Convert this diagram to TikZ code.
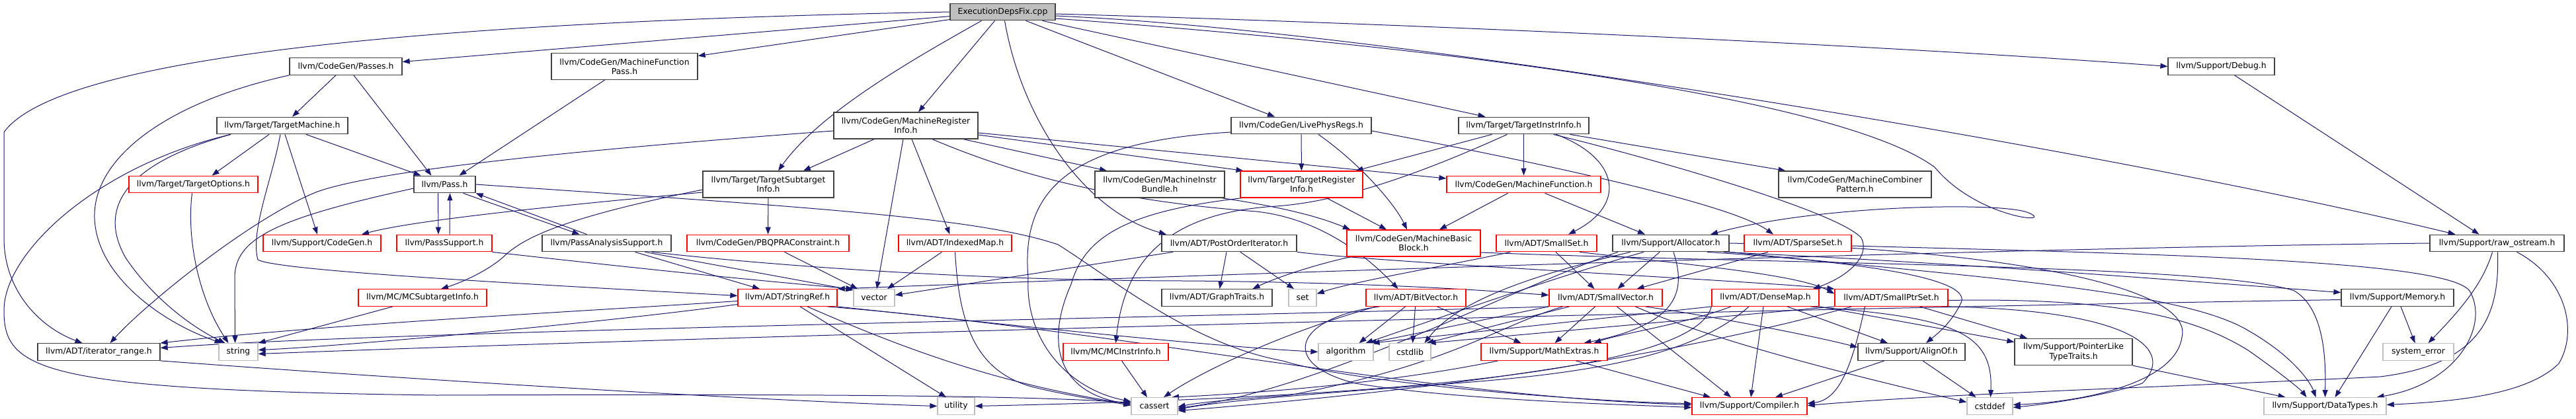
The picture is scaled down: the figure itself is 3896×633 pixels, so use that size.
\documentclass[tikz,border=0pt]{standalone}
\usepackage{fontspec}
\setmainfont{DejaVu Sans}
\usetikzlibrary{arrows.meta}
\definecolor{edgec}{HTML}{191970}
\definecolor{gfill}{HTML}{BFBFBF}
\definecolor{bkb}{HTML}{404040}
\definecolor{grb}{HTML}{BFBFBF}
\pgfdeclarelayer{bg}
\pgfsetlayers{bg,main}
\tikzset{
  nd/.style={rectangle, fill=white, inner sep=0pt, minimum height=25.5pt, line width=1.3pt,
    font=\fontsize{12.4}{14.2}\selectfont, align=center},
  bk/.style={nd, draw=bkb},
  rd/.style={nd, draw=red},
  gr/.style={nd, draw=grb},
  two/.style={minimum height=40pt},
  e/.style={draw=edgec, line width=1pt, -{Triangle[length=11pt,width=8pt]}},
}
\begin{document}
\begin{tikzpicture}[x=1pt,y=-1pt]
\begin{pgfonlayer}{bg}
\fill[white] (0,0) rectangle (3896,633);
\end{pgfonlayer}
\path[use as bounding box] (0,0) rectangle (3896,633);
% row 0
\node[bk, fill=gfill, minimum width=159] (EDF) at (1516.5,18) {ExecutionDepsFix.cpp};
% row 1
\node[bk, minimum width=170] (Passes) at (523,100.5) {llvm/CodeGen/Passes.h};
\node[bk, two, minimum width=221] (MFP) at (944.5,100.5) {llvm/CodeGen/MachineFunction\\Pass.h};
\node[bk, minimum width=161] (Debug) at (3359.5,100.5) {llvm/Support/Debug.h};
% row 2
\node[bk, minimum width=198] (TM) at (427,190) {llvm/Target/TargetMachine.h};
\node[bk, two, minimum width=218] (MRI) at (1370,190) {llvm/CodeGen/MachineRegister\\Info.h};
\node[bk, minimum width=212] (LPR) at (1968,190) {llvm/CodeGen/LivePhysRegs.h};
\node[bk, minimum width=197] (TII) at (2304.5,190) {llvm/Target/TargetInstrInfo.h};
% row 3
\node[rd, minimum width=195] (TO) at (292.5,279) {llvm/Target/TargetOptions.h};
\node[bk, minimum width=93] (Pass) at (672.5,279) {llvm/Pass.h};
\node[bk, two, minimum width=198] (TSI) at (1162,279) {llvm/Target/TargetSubtarget\\Info.h};
\node[bk, two, minimum width=196] (MIB) at (1754,279) {llvm/CodeGen/MachineInstr\\Bundle.h};
\node[rd, two, minimum width=185] (TRI) at (1968.5,279) {llvm/Target/TargetRegister\\Info.h};
\node[rd, minimum width=233] (MF) at (2304.5,279) {llvm/CodeGen/MachineFunction.h};
\node[bk, two, minimum width=231] (MCP) at (2805.5,279) {llvm/CodeGen/MachineCombiner\\Pattern.h};
% row 4
\node[rd, minimum width=178] (SCG) at (487,368) {llvm/Support/CodeGen.h};
\node[rd, minimum width=144] (PS) at (672,368) {llvm/PassSupport.h};
\node[bk, minimum width=195] (PAS) at (917.5,368) {llvm/PassAnalysisSupport.h};
\node[rd, minimum width=245] (PBQP) at (1161.5,368) {llvm/CodeGen/PBQPRAConstraint.h};
\node[rd, minimum width=171] (IM) at (1444.5,368) {llvm/ADT/IndexedMap.h};
\node[bk, minimum width=204] (POI) at (1859,368) {llvm/ADT/PostOrderIterator.h};
\node[rd, two, minimum width=202] (MBB) at (2138,368) {llvm/CodeGen/MachineBasic\\Block.h};
\node[rd, minimum width=152] (SS) at (2339,368) {llvm/ADT/SmallSet.h};
\node[bk, minimum width=176] (Alloc) at (2527,368) {llvm/Support/Allocator.h};
\node[rd, minimum width=162] (SpS) at (2719,368) {llvm/ADT/SparseSet.h};
\node[bk, minimum width=203] (RO) at (3776.5,368) {llvm/Support/raw\_ostream.h};
% row 5
\node[rd, minimum width=194] (MCSTI) at (639,450.5) {llvm/MC/MCSubtargetInfo.h};
\node[rd, minimum width=150] (SR) at (1191,450.5) {llvm/ADT/StringRef.h};
\node[gr, minimum width=62] (vector) at (1322,450.5) {vector};
\node[bk, minimum width=167] (GT) at (1840.5,450.5) {llvm/ADT/GraphTraits.h};
\node[gr, minimum width=42] (set) at (1970,450.5) {set};
\node[rd, minimum width=151] (BV) at (2141.5,450.5) {llvm/ADT/BitVector.h};
\node[rd, minimum width=171] (SV) at (2428.5,450.5) {llvm/ADT/SmallVector.h};
\node[rd, minimum width=162] (DM) at (2670,450.5) {llvm/ADT/DenseMap.h};
\node[rd, minimum width=171] (SPS) at (2860.5,450.5) {llvm/ADT/SmallPtrSet.h};
\node[bk, minimum width=170] (Mem) at (3626,450.5) {llvm/Support/Memory.h};
% row 6
\node[bk, minimum width=185] (IR) at (149.5,532.5) {llvm/ADT/iterator\_range.h};
\node[gr, minimum width=59] (string) at (360.5,532.5) {string};
\node[rd, minimum width=159] (MCII) at (1687.5,532.5) {llvm/MC/MCInstrInfo.h};
\node[gr, minimum width=83] (algorithm) at (2035.5,532.5) {algorithm};
\node[gr, minimum width=63] (cstdlib) at (2132.5,532.5) {cstdlib};
\node[rd, minimum width=191] (ME) at (2335.5,532.5) {llvm/Support/MathExtras.h};
\node[bk, minimum width=162] (AO) at (2891,532.5) {llvm/Support/AlignOf.h};
\node[bk, two, minimum width=178] (PLTT) at (3136,532.5) {llvm/Support/PointerLike\\TypeTraits.h};
\node[gr, minimum width=107] (syserr) at (3657.5,532.5) {system\_error};
% row 7
\node[gr, minimum width=56] (utility) at (1446,614.5) {utility};
\node[gr, minimum width=70] (cassert) at (1746,614.5) {cassert};
\node[rd, minimum width=174] (Comp) at (2646,614.5) {llvm/Support/Compiler.h};
\node[gr, minimum width=69] (cstddef) at (3009.5,614.5) {cstddef};
\node[gr, minimum width=185] (DT) at (3516.5,614.5) {llvm/Support/DataTypes.h};

\begin{pgfonlayer}{bg}
% EDF
\draw[e] (EDF) -- (Passes);
\draw[e] (EDF) -- (MFP);
\draw[e] (EDF.west) .. controls (800,30) and (100,70) .. (6,200) -- (6,360) .. controls (6,440) and (60,495) .. ([xshift=-25]IR.north);
\draw[e] ([xshift=-32]EDF.south) .. controls (1380,90) and (1240,170) .. ([xshift=15]TSI.north);
\draw[e] ([xshift=-12]EDF.south) -- ([xshift=19]MRI.north);
\draw[e] ([xshift=3]EDF.south) .. controls (1545,180) and (1640,320) .. ([xshift=-95]POI.north);
\draw[e] ([xshift=35]EDF.south) -- ([xshift=-40]LPR.north);
\draw[e] ([xshift=60]EDF.south) -- ([xshift=-58]TII.north);
\draw[e] ([yshift=-3]EDF.east) .. controls (2200,38) and (2900,72) .. (Debug.west);
\draw[e] ([yshift=-6]EDF.east) .. controls (2100,45) and (3200,230) .. ([xshift=-63]RO.north);
\draw[e] ([yshift=-10]EDF.east) .. controls (2300,80) and (2800,160) .. (2926,253) .. controls (2990,330) and (3110,340) .. (3068,322) .. controls (3030,305) and (2750,310) .. ([xshift=60]Alloc.north);
% Passes, MFP, Debug
\draw[e] (Passes.south west) .. controls (250,155) and (140,240) .. (143,330) .. controls (146,420) and (250,490) .. ([xshift=-25]string.north);
\draw[e] ([xshift=-15]Passes.south) -- ([xshift=15]TM.north);
\draw[e] ([xshift=12]Passes.south) -- ([xshift=-20]Pass.north);
\draw[e] ([xshift=-30]MFP.south) -- ([xshift=22]Pass.north);
\draw[e] ([xshift=20]Debug.south) -- ([xshift=-27]RO.north);
% TM
\draw[e] ([xshift=-78]TM.south) .. controls (150,250) and (6,380) .. (6,470) .. controls (6,560) and (60,590) .. (660,598) .. controls (1200,596) and (1550,598) .. ([yshift=5]cassert.west);
\draw[e] ([xshift=-78]TM.south) .. controls (180,250) and (150,320) .. (190,390) .. controls (230,450) and (290,495) .. ([xshift=-20]string.north);
\draw[e] ([xshift=-20]TM.south) -- ([xshift=28]TO.north);
\draw[e] ([xshift=-3]TM.south) .. controls (412,270) and (378,350) .. (390,393) .. controls (420,410) and (800,430) .. ([yshift=3]SR.west);
\draw[e] ([xshift=4]TM.south) -- ([xshift=-7]SCG.north);
\draw[e] ([xshift=36]TM.south) -- ([xshift=-36]Pass.north);
% MRI
\draw[e] ([yshift=-8]MRI.west) .. controls (900,225) and (580,255) .. (480,290) .. controls (380,330) and (220,460) .. ([xshift=17]IR.north);
\draw[e] ([xshift=-48]MRI.south) -- ([xshift=53]TSI.north);
\draw[e] ([xshift=-4]MRI.south) -- ([xshift=4]vector.north);
\draw[e] ([xshift=9]MRI.south) -- ([xshift=-8]IM.north);
\draw[e] ([xshift=40]MRI.south) .. controls (1550,270) and (1700,305) .. (1900,320) .. controls (1990,330) and (2060,380) .. ([xshift=-27]BV.north);
\draw[e] ([xshift=87]MRI.south) -- ([xshift=-80]MIB.north);
\draw[e] ([yshift=-14]MRI.east) -- ([xshift=-88]TRI.north);
\draw[e] ([yshift=-11]MRI.east) -- ([yshift=9]MF.west);
% LPR
\draw[e] (LPR) -- (TRI);
\draw[e] ([xshift=26]LPR.south) .. controls (2060,250) and (2110,310) .. ([xshift=-10]MBB.north);
\draw[e] ([yshift=-8]LPR.east) .. controls (2350,250) and (2620,310) .. ([xshift=-37]SpS.north);
\draw[e] ([yshift=-10]LPR.west) .. controls (1600,215) and (1545,300) .. (1555,420) .. controls (1550,520) and (1620,590) .. ([yshift=7]cassert.west);
% TII
\draw[e] ([xshift=-48]TII.south) -- ([xshift=82]TRI.north);
\draw[e] ([xshift=-25]TII.south) .. controls (2150,262) and (2030,305) .. (1930,312) .. controls (1760,322) and (1700,400) .. (MCII.north);
\draw[e] (TII) -- (MF);
\draw[e] ([xshift=49]TII.south) .. controls (2450,240) and (2460,310) .. ([xshift=33]SS.north);
\draw[e] ([xshift=70]TII.south) -- ([xshift=-105]MCP.north);
\draw[e] ([xshift=45]TII.south) .. controls (2500,240) and (2780,320) .. (2815,360) .. controls (2830,390) and (2790,420) .. ([xshift=72]DM.north);
% row 3 sources
\draw[e] ([xshift=-2]TO.south) .. controls (282,360) and (300,450) .. ([xshift=-15]string.north);
\draw[e] ([yshift=-6]Pass.west) .. controls (420,330) and (355,360) .. (355,420) -- ([xshift=-5]string.north);
\draw[e] ([xshift=-10]Pass.south) -- ([xshift=-9]PS.north);
\draw[e] ([xshift=8]PS.north) -- ([xshift=8]Pass.south);
\draw[e] ([xshift=28]Pass.south) -- ([xshift=-41]PAS.north);
\draw[e] ([xshift=-30]PAS.north) -- (Pass.south east);
\draw[e] (Pass.east) .. controls (1250,315) and (1480,330) .. (1600,370) .. controls (1680,420) and (1800,520) .. (1940,546) .. controls (2050,580) and (2400,608) .. ([yshift=4]Comp.west);
\draw[e] (TSI) -- (PBQP);
\draw[e] ([yshift=-8]TSI.west) .. controls (850,330) and (790,360) .. (760,390) .. controls (730,415) and (690,430) .. ([xshift=28]MCSTI.north);
\draw[e] ([yshift=-12]TSI.west) .. controls (800,315) and (620,335) .. ([xshift=60]SCG.north);
\draw[e] ([xshift=94]MIB.south) .. controls (1950,315) and (2000,330) .. ([xshift=-96]MBB.north);
\draw[e] ([xshift=38]TRI.south) -- ([xshift=-41]MBB.north);
\draw[e] ([xshift=-90]TRI.south) .. controls (1700,320) and (1640,360) .. (1620,430) .. controls (1580,520) and (1600,595) .. ([yshift=3]cassert.west);
\draw[e] ([xshift=-24]MF.south) -- ([xshift=39]MBB.north);
\draw[e] ([xshift=32]MF.south) -- ([xshift=-39]Alloc.north);
% row 4 sources
\draw[e] (PS.south east) .. controls (1000,410) and (1150,425) .. (vector.north west);
\draw[e] ([xshift=43]PAS.south) -- ([xshift=-42]SR.north);
\draw[e] ([xshift=58]PAS.south) -- ([yshift=-2]vector.north west);
\draw[e] ([xshift=68]PAS.south) .. controls (1200,405) and (1500,425) .. (1800,425) .. controls (2100,428) and (2250,440) .. ([yshift=4]SV.west);
\draw[e] ([xshift=25]PBQP.south) -- ([xshift=-25]vector.north);
\draw[e] ([xshift=-20]IM.south) -- ([xshift=20]vector.north);
\draw[e] (IM.south) .. controls (1450,480) and (1470,560) .. (1560,585) .. controls (1620,600) and (1680,608) .. ([yshift=1]cassert.west);
\draw[e] ([xshift=-4]POI.south) -- ([xshift=4]GT.north);
\draw[e] ([xshift=-85]POI.south) -- ([yshift=4]vector.east);
\draw[e] ([xshift=17]POI.south) -- ([xshift=-13]set.north);
\draw[e] (POI.south east) .. controls (2100,398) and (2650,425) .. (SPS.north west);
\draw[e] ([xshift=-95]MBB.south) .. controls (1990,400) and (1930,420) .. ([xshift=54]GT.north);
\draw[e] ([yshift=-14]MBB.east) .. controls (2700,400) and (3350,400) .. (3470,440) .. controls (3520,470) and (3517,560) .. (DT.north);
\draw[e] ([xshift=-55]SS.south) .. controls (2200,400) and (2050,425) .. ([yshift=6]set.east);
\draw[e] ([xshift=14]SS.south) -- ([xshift=-17]SV.north);
\draw[e] ([xshift=50]SS.south) .. controls (2550,400) and (2720,415) .. ([yshift=6]SPS.west);
\draw[e] ([xshift=-17]Alloc.south) -- ([xshift=18]SV.north);
\draw[e] ([xshift=-41]Alloc.south) .. controls (2350,420) and (2180,480) .. ([xshift=30]algorithm.north);
\draw[e] ([xshift=-61]Alloc.south) .. controls (2300,420) and (2200,460) .. ([xshift=22]cstdlib.north);
\draw[e] ([xshift=4]Alloc.south) .. controls (2550,440) and (2540,490) .. ([xshift=60]ME.north);
\draw[e] ([xshift=55]Alloc.south) .. controls (2800,395) and (2990,420) .. (2965,460) .. controls (2950,490) and (2930,505) .. ([xshift=22]AO.north);
\draw[e] ([xshift=80]Alloc.south) .. controls (3000,400) and (3300,425) .. ([yshift=8]Mem.west);
\draw[e] (Alloc.south east) .. controls (3000,420) and (3300,440) .. (3400,500) .. controls (3470,540) and (3495,580) .. ([xshift=-14]DT.north);
\draw[e] ([xshift=-80]Alloc.south) .. controls (2300,430) and (2000,590) .. ([yshift=-3]cassert.east);
\draw[e] (Alloc.east) .. controls (3000,375) and (3320,430) .. (3300,510) .. controls (3290,580) and (3150,608) .. ([yshift=2]cstddef.east);
\draw[e] ([xshift=-45]SpS.south) -- ([xshift=47]SV.north);
\draw[e] ([yshift=-4]SpS.east) .. controls (3300,385) and (3700,395) .. (3735,440) .. controls (3765,490) and (3720,580) .. ([xshift=78]DT.north);
\draw[e] (RO.west) .. controls (3000,375) and (1700,420) .. (SR.north east);
\draw[e] ([xshift=-7]RO.south) .. controls (3755,430) and (3720,470) .. ([xshift=15]syserr.north);
\draw[e] ([xshift=30]RO.south) .. controls (3880,420) and (3900,500) .. (3870,550) .. controls (3820,600) and (3700,608) .. ([yshift=2]DT.east);
\draw[e] ([xshift=1]RO.south) .. controls (3780,470) and (3760,550) .. (3600,570) .. controls (3300,585) and (2950,595) .. ([yshift=1]Comp.east);
% row 5 sources
\draw[e] ([xshift=-9]Mem.south) -- ([xshift=15]DT.north);
\draw[e] ([xshift=5]Mem.south) -- ([xshift=-5]syserr.north);
\draw[e] ([yshift=-3]Mem.west) .. controls (2500,470) and (1000,512) .. ([yshift=-3]string.east);
\draw[e] ([xshift=-45]MCSTI.south) -- (string.north east);
\draw[e] ([yshift=-5]SR.west) .. controls (900,470) and (500,490) .. (IR.north east);
\draw[e] ([yshift=-10]SR.west) .. controls (900,490) and (500,525) .. ([yshift=3]string.east);
\draw[e] (SR.south east) .. controls (1600,500) and (1850,525) .. (algorithm.west);
\draw[e] ([xshift=30]SR.south) .. controls (1350,520) and (1500,580) .. ([yshift=3]cassert.west);
\draw[e] ([xshift=19]SR.south) -- ([xshift=-15]utility.north);
\draw[e] ([xshift=60]SR.south) .. controls (1700,500) and (2150,600) .. ([yshift=2]Comp.west);
\draw[e] ([xshift=-16]BV.south) -- ([xshift=20]algorithm.north);
\draw[e] ([xshift=-1]BV.south) -- ([xshift=4]cstdlib.north);
\draw[e] ([xshift=32]BV.south) -- ([xshift=-35]ME.north);
\draw[e] ([xshift=-55]BV.south) .. controls (1960,480) and (1930,550) .. (2050,580) .. controls (2200,605) and (2450,612) .. ([yshift=-2]Comp.west);
\draw[e] ([xshift=-60]BV.south) .. controls (1950,500) and (1820,560) .. ([xshift=14]cassert.north);
\draw[e] ([xshift=60]SV.south) .. controls (2600,480) and (2750,510) .. ([yshift=7]AO.west);
\draw[e] ([xshift=17]SV.south) -- ([xshift=-28]Comp.north);
\draw[e] ([xshift=-16]SV.south) -- ([xshift=16]ME.north);
\draw[e] (SV.south west) -- ([xshift=35]algorithm.north);
\draw[e] ([xshift=-55]SV.south) -- ([xshift=25]cstdlib.north);
\draw[e] ([xshift=-65]SV.south) .. controls (2260,495) and (2200,550) .. (1950,598) .. controls (1870,604) and (1820,608) .. ([yshift=-1]cassert.east);
\draw[e] ([xshift=45]SV.south) .. controls (2600,520) and (2850,580) .. ([yshift=6]cstddef.west);
\draw[e] (SV.south west) .. controls (1900,478) and (600,500) .. ([yshift=6]IR.east);
\draw[e] ([xshift=33]DM.south) -- ([xshift=-36]AO.north);
\draw[e] ([xshift=-3]DM.south) -- ([xshift=2]Comp.north);
\draw[e] ([xshift=-52]DM.south) .. controls (2550,490) and (2450,505) .. ([xshift=75]ME.north);
\draw[e] (DM.south east) -- ([yshift=15]PLTT.west);
\draw[e] (DM.south west) -- ([xshift=40]algorithm.north);
\draw[e] ([xshift=-25]DM.south) .. controls (2560,540) and (2400,565) .. (2200,580) .. controls (2000,595) and (1850,606) .. ([yshift=-5]cassert.east);
\draw[e] ([xshift=68]DM.south) .. controls (2950,480) and (3015,500) .. ([xshift=1]cstddef.north);
\draw[e] (DM.south west) .. controls (2560,580) and (1900,605) .. (utility.east);
\draw[e] ([xshift=-40]SPS.south) .. controls (2800,560) and (2780,605) .. ([yshift=4]Comp.east);
\draw[e] ([yshift=-4]SPS.east) .. controls (3200,450) and (3320,480) .. (3400,530) .. controls (3450,565) and (3480,590) .. ([xshift=-28]DT.north);
\draw[e] ([xshift=43]SPS.south) -- ([xshift=-70]PLTT.north);
\draw[e] ([xshift=-60]SPS.south) .. controls (2450,560) and (2050,600) .. ([yshift=-7]cassert.east);
\draw[e] (SPS.south east) .. controls (3230,470) and (3290,530) .. (3240,580) .. controls (3180,600) and (3090,612) .. ([yshift=-2]cstddef.east);
\draw[e] (SPS.south west) -- ([xshift=28]cstdlib.north);
% row 6 sources
\draw[e] ([xshift=48]ME.south) -- ([xshift=-59]Comp.north);
\draw[e] ([xshift=-70]ME.south) .. controls (2100,580) and (1900,595) .. ([xshift=26]cassert.north);
\draw[e] ([xshift=9]MCII.south) -- ([xshift=-11]cassert.north);
\draw[e] (IR.south east) .. controls (700,580) and (1200,608) .. (utility.west);
\draw[e] ([xshift=-41]AO.south) -- ([xshift=39]Comp.north);
\draw[e] ([xshift=17]AO.south) -- ([xshift=-21]cstddef.north);
\draw[e] (PLTT.south east) -- ([xshift=-60]DT.north);
\end{pgfonlayer}
\end{tikzpicture}
\end{document}
